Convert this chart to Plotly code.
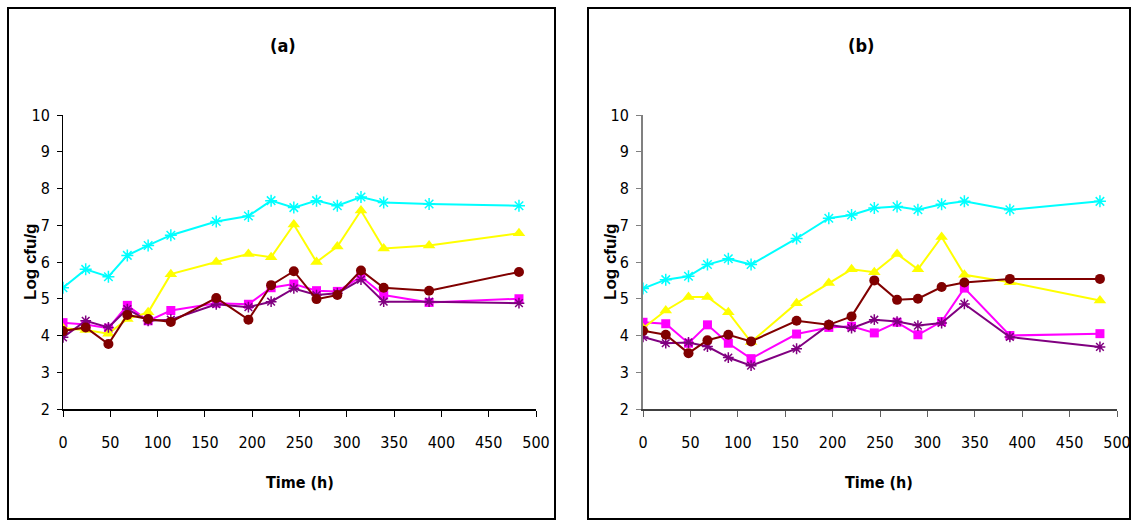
import plotly.graph_objects as go

W, H = 1131, 520

time_h = [0, 24, 48, 68, 90, 114, 162, 196, 220, 244, 268, 290, 315, 339, 387, 482]

# Panel (a)
a_cyan = [5.3, 5.8, 5.6, 6.18, 6.45, 6.73, 7.1, 7.25, 7.67, 7.48, 7.67, 7.53, 7.77, 7.62, 7.58, 7.53]
a_yellow = [4.2, 4.15, 4.05, 4.45, 4.63, 5.67, 6.0, 6.22, 6.13, 7.02, 6.0, 6.42, 7.4, 6.37, 6.45, 6.78]
a_darkred = [4.12, 4.22, 3.77, 4.56, 4.45, 4.37, 5.02, 4.43, 5.37, 5.75, 4.99, 5.1, 5.77, 5.3, 5.22, 5.73]
a_magenta = [4.35, 4.3, 4.2, 4.82, 4.4, 4.68, 4.88, 4.85, 5.3, 5.4, 5.22, 5.2, 5.6, 5.1, 4.9, 5.0]
a_purple = [3.95, 4.4, 4.22, 4.72, 4.4, 4.43, 4.85, 4.77, 4.92, 5.28, 5.1, 5.15, 5.52, 4.92, 4.92, 4.88]

# Panel (b)
b_cyan = [5.28, 5.52, 5.61, 5.93, 6.09, 5.93, 6.64, 7.19, 7.28, 7.47, 7.51, 7.42, 7.57, 7.65, 7.42, 7.65]
b_yellow = [4.2, 4.68, 5.05, 5.05, 4.63, 3.82, 4.88, 5.43, 5.8, 5.72, 6.22, 5.8, 6.68, 5.65, 5.45, 4.95]
b_darkred = [4.13, 4.02, 3.52, 3.87, 4.02, 3.84, 4.4, 4.29, 4.52, 5.5, 4.97, 5.0, 5.32, 5.44, 5.54, 5.54]
b_magenta = [4.36, 4.32, 3.79, 4.29, 3.79, 3.37, 4.04, 4.22, 4.25, 4.07, 4.36, 4.02, 4.38, 5.29, 4.0, 4.05]
b_purple = [3.96, 3.79, 3.81, 3.7, 3.4, 3.18, 3.64, 4.29, 4.2, 4.43, 4.38, 4.27, 4.34, 4.86, 3.96, 3.69]

x_ticks = [0, 50, 100, 150, 200, 250, 300, 350, 400, 450, 500]
y_ticks = [2, 3, 4, 5, 6, 7, 8, 9, 10]
panel_titles = ["(a)", "(b)"]
x_title = "Time (h)"
y_title = "Log cfu/g"

styles = [
    ("#00FFFF", "asterisk-open", 10, 2),
    ("#FFFF00", "triangle-up", 11, 2),
    ("#800000", "circle", 10, 2),
    ("#FF00FF", "square", 9, 2),
    ("#800080", "asterisk-open", 9, 2),
]

fig = go.Figure()
panels = [
    ([a_magenta, a_yellow, a_cyan, a_purple, a_darkred], "x", "y"),
    ([b_magenta, b_yellow, b_cyan, b_purple, b_darkred], "x2", "y2"),
]
order_styles = [styles[3], styles[1], styles[0], styles[4], styles[2]]
for series, xa, ya in panels:
    for vals, (col, sym, sz, lw) in zip(series, order_styles):
        mk = dict(color=col, symbol=sym, size=sz)
        if "open" in sym:
            mk["line"] = dict(color=col, width=1.5)
        else:
            mk["line"] = dict(width=0)
        fig.add_trace(go.Scatter(x=time_h, y=vals, mode="lines+markers",
                                 line=dict(color=col, width=lw), marker=mk,
                                 xaxis=xa, yaxis=ya, showlegend=False))

NARROW = "DejaVu Sans Condensed, Liberation Sans Narrow, Arial Narrow, Liberation Sans"
tickfont = dict(family=NARROW, size=16, color="black")

def px(x):
    return x / W

def py(y):
    return 1 - y / H

ydom = [py(409), py(115)]
axis_common = dict(range=[0, 500], tickvals=x_ticks, ticks="outside", ticklen=6,
                   showgrid=False, zeroline=False, showline=True, tickfont=tickfont,
                   ticklabelstandoff=12, automargin=False)
yaxis_common = dict(range=[2, 10], tickvals=y_ticks, ticks="outside", ticklen=5,
                    showgrid=False, zeroline=False, showline=True, tickfont=tickfont,
                    ticklabelstandoff=4, automargin=False)

fig.update_layout(
    width=W, height=H,
    margin=dict(l=0, r=0, t=0, b=0, autoexpand=False),
    paper_bgcolor="white", plot_bgcolor="white",
    xaxis=dict(domain=[px(63), px(536)], anchor="y", linecolor="black", linewidth=2,
               tickcolor="black", tickwidth=1, **axis_common),
    yaxis=dict(domain=ydom, anchor="x", linecolor="black", linewidth=1,
               tickcolor="black", **yaxis_common),
    xaxis2=dict(domain=[px(643), px(1117)], anchor="y2", linecolor="#404040", linewidth=2,
                tickcolor="#606060", tickwidth=1, **axis_common),
    yaxis2=dict(domain=ydom, anchor="x2", linecolor="#808080", linewidth=2,
                tickcolor="#808080", **yaxis_common),
)

ann = []
for cx_t, cx_x, cx_y, t in [(283, 300, 30, panel_titles[0]), (861, 879, 610, panel_titles[1])]:
    ann.append(dict(x=px(cx_t), y=py(45), xref="paper", yref="paper", text="<b>" + t + "</b>",
                    xanchor="center", yanchor="middle",
                    showarrow=False, font=dict(family=NARROW, size=18, color="black")))
    ann.append(dict(x=px(cx_x), y=py(482), xref="paper", yref="paper", text="<b>" + x_title + "</b>",
                    xanchor="center", yanchor="middle",
                    showarrow=False, font=dict(family=NARROW, size=16, color="black")))
    ann.append(dict(x=px(cx_y), y=py(262), xref="paper", yref="paper", text="<b>" + y_title + "</b>",
                    xanchor="center", yanchor="middle",
                    textangle=-90, showarrow=False,
                    font=dict(family="Liberation Sans, Arial", size=17, color="black")))
fig.update_layout(annotations=ann)

shapes = []
for x0, x1 in [(8, 555), (588, 1130)]:
    shapes.append(dict(type="rect", xref="paper", yref="paper", x0=px(x0), x1=px(x1),
                       y0=py(519), y1=py(8), line=dict(color="black", width=2)))
fig.update_layout(shapes=shapes)

fig.write_html("out.html", config={"displayModeBar": False},
               post_script="document.body.style.margin='0';document.body.style.overflow='hidden';")
